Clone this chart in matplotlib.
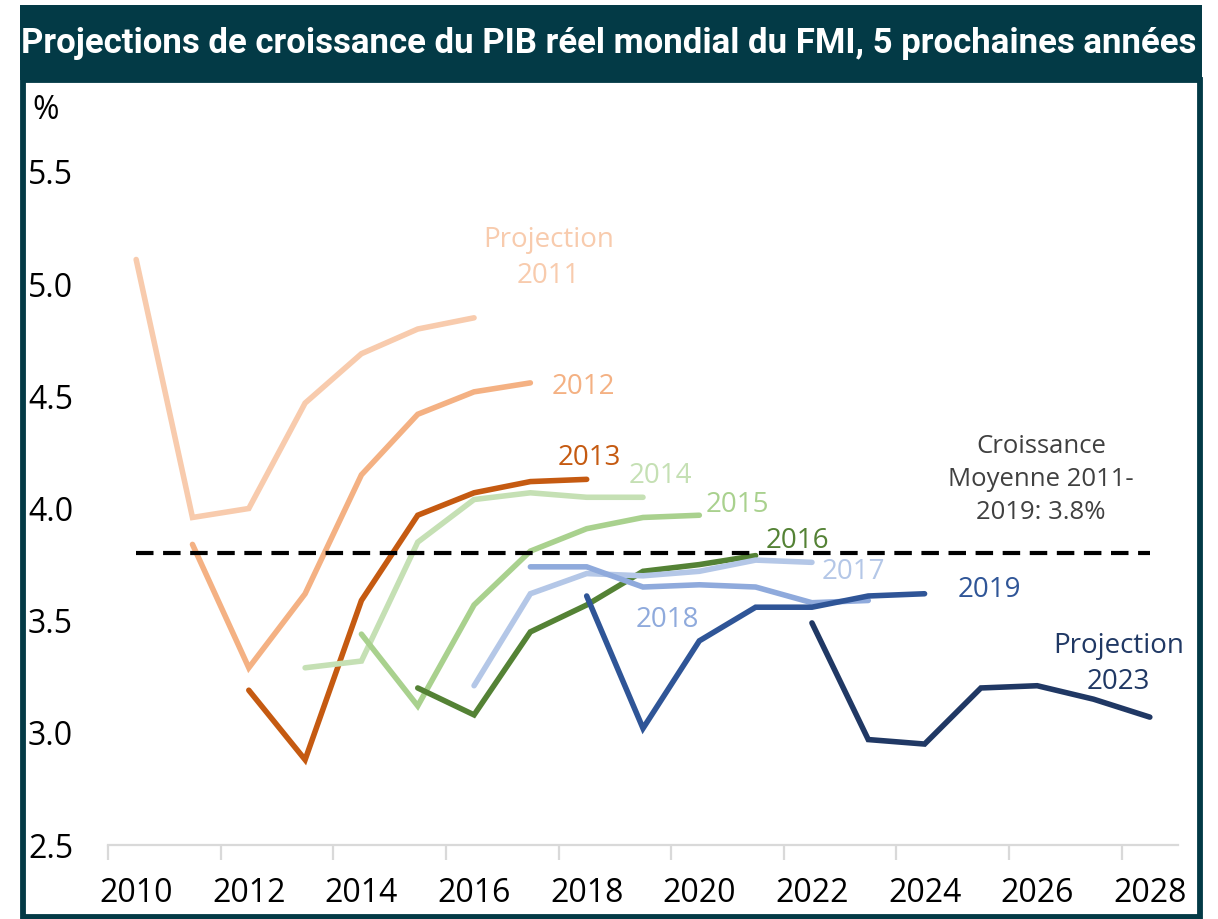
import matplotlib
matplotlib.use("Agg")
from matplotlib import pyplot as plt
from matplotlib.patches import Rectangle

# Data: each IMF vintage's 5-year projections (real world GDP growth, %)
years_2011 = [2010, 2011, 2012, 2013, 2014, 2015, 2016]
proj_2011 = [5.11, 3.96, 4.00, 4.47, 4.69, 4.80, 4.85]

years_2012 = [2011, 2012, 2013, 2014, 2015, 2016, 2017]
proj_2012 = [3.84, 3.29, 3.62, 4.15, 4.42, 4.52, 4.56]

years_2013 = [2012, 2013, 2014, 2015, 2016, 2017, 2018]
proj_2013 = [3.19, 2.88, 3.59, 3.97, 4.07, 4.12, 4.13]

years_2014 = [2013, 2014, 2015, 2016, 2017, 2018, 2019]
proj_2014 = [3.29, 3.32, 3.85, 4.04, 4.07, 4.05, 4.05]

years_2015 = [2014, 2015, 2016, 2017, 2018, 2019, 2020]
proj_2015 = [3.44, 3.12, 3.57, 3.81, 3.91, 3.96, 3.97]

years_2016 = [2015, 2016, 2017, 2018, 2019, 2020, 2021]
proj_2016 = [3.20, 3.08, 3.45, 3.57, 3.72, 3.75, 3.79]

years_2017 = [2016, 2017, 2018, 2019, 2020, 2021, 2022]
proj_2017 = [3.21, 3.62, 3.71, 3.70, 3.72, 3.77, 3.76]

years_2018 = [2017, 2018, 2019, 2020, 2021, 2022, 2023]
proj_2018 = [3.74, 3.74, 3.65, 3.66, 3.65, 3.58, 3.59]

years_2019 = [2018, 2019, 2020, 2021, 2022, 2023, 2024]
proj_2019 = [3.61, 3.02, 3.41, 3.56, 3.56, 3.61, 3.62]

years_2023 = [2022, 2023, 2024, 2025, 2026, 2027, 2028]
proj_2023 = [3.49, 2.97, 2.95, 3.20, 3.21, 3.15, 3.07]

avg_growth = 3.8
avg_years = [2010, 2028]

series = [
    (years_2011, proj_2011, "#f8cbad"),
    (years_2012, proj_2012, "#f4b183"),
    (years_2013, proj_2013, "#c55a11"),
    (years_2014, proj_2014, "#c5e0b4"),
    (years_2015, proj_2015, "#a9d18e"),
    (years_2016, proj_2016, "#548235"),
    (years_2017, proj_2017, "#b4c7e7"),
    (years_2018, proj_2018, "#8faadc"),
    (years_2019, proj_2019, "#2f5597"),
    (years_2023, proj_2023, "#203864"),
]

# label text, x (year), y (value), colour
labels = [
    ("Projection\n2011", 2017.32, 5.115, "#f8cbad"),
    ("2012", 2017.94, 4.54, "#f4b183"),
    ("2013", 2018.04, 4.225, "#c55a11"),
    ("2014", 2019.3, 4.145, "#c5e0b4"),
    ("2015", 2020.67, 4.015, "#a9d18e"),
    ("2016", 2021.74, 3.855, "#548235"),
    ("2017", 2022.73, 3.715, "#b4c7e7"),
    ("2018", 2019.43, 3.505, "#8faadc"),
    ("2019", 2025.15, 3.635, "#2f5597"),
    ("Projection\n2023", 2027.44, 3.305, "#203864"),
]

TEAL = "#033a46"

fig = plt.figure(figsize=(12.18, 9.19), dpi=100)

# Title bar and outer frame
fig.patches.append(Rectangle((23 / 1218, (919 - 917) / 919), (1200 - 23) / 1218, (917 - 80) / 919,
                             transform=fig.transFigure, fill=False, edgecolor=TEAL, linewidth=4.2))
fig.patches.append(Rectangle((20 / 1218, (919 - 80) / 919), (1202 - 20) / 1218, 75 / 919,
                             transform=fig.transFigure, facecolor=TEAL, edgecolor="none"))
fig.text(0.5, (919 - 43) / 919, "Projections de croissance du PIB réel mondial du FMI, 5 prochaines années",
         ha="center", va="center", color="white", fontsize=25, fontweight="bold", family="Roboto")

ax = fig.add_axes([108 / 1218, 74 / 919, 1070 / 1218, 673 / 919])

for xs, ys, c in series:
    ax.plot(xs, ys, color=c, linewidth=4.0, solid_capstyle="round", solid_joinstyle="miter", clip_on=False)

ax.plot(avg_years, [avg_growth, avg_growth], color="black", linewidth=3.0,
        dashes=(4.2, 2.3), dash_capstyle="butt", zorder=5)

for txt, x, y, c in labels:
    ax.text(x, y, txt, color=c, fontsize=20, ha="center", va="center", family="Open Sans", linespacing=1.38)

ax.text(2026.07, 4.13, "Croissance\nMoyenne 2011-\n2019: 3.8%", color="#404040", fontsize=18.5,
        ha="center", va="center", family="Open Sans", linespacing=1.42)

ax.text(-0.071, 1.092, "%", transform=ax.transAxes, fontsize=23, family="Open Sans", ha="left", va="center")

ax.set_xlim(2009.5, 2028.5)
ax.set_ylim(2.5, 5.5)

ax.set_xticks(list(range(2010, 2029, 2)))
ax.set_xticklabels([str(y) for y in range(2010, 2029, 2)], fontsize=23, family="Open Sans")
ax.set_xticks([y + 0.5 for y in range(2009, 2028, 2)], minor=True)
ax.tick_params(axis="x", which="major", length=0, pad=23)
ax.tick_params(axis="x", which="minor", length=11, width=1.6, color="#d9d9d9", direction="out")

ax.set_yticks([2.5, 3.0, 3.5, 4.0, 4.5, 5.0, 5.5])
ax.set_yticklabels(["2.5", "3.0", "3.5", "4.0", "4.5", "5.0", "5.5"], fontsize=23, family="Open Sans")
ax.tick_params(axis="y", length=0, pad=57.6)
for lab in ax.get_yticklabels():
    lab.set_horizontalalignment("left")

for side in ["top", "right", "left"]:
    ax.spines[side].set_visible(False)
ax.spines["bottom"].set_color("#d9d9d9")
ax.spines["bottom"].set_linewidth(1.6)

plt.savefig("out.png", dpi=100)
plt.close()
